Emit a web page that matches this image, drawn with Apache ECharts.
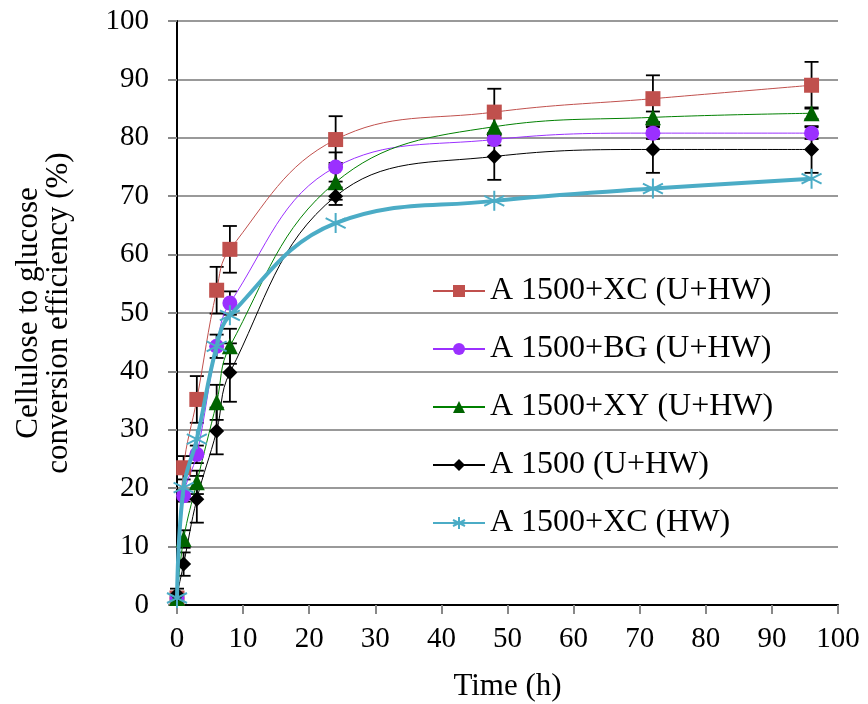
<!DOCTYPE html>
<html>
<head>
<meta charset="utf-8">
<script src="https://cdn.jsdelivr.net/npm/echarts@6/dist/echarts.min.js"></script>
<style>
  html, body { margin: 0; padding: 0; background: #fff; }
  #main { width: 868px; height: 704px; }
</style>
</head>
<body>
<div id="main"></div>
<script>
// hydrolysis time (h)
const times = [0, 1, 3, 6, 8, 24, 48, 72, 96];

// conversion efficiency (%) per condition, with error (+/-)
const xcUHW = [1.2, 23.5, 35.2, 53.9, 60.9, 79.7, 84.4, 86.7, 89.0];
const xcUHWErr = [0.5, 2, 4, 4, 4, 4, 4, 4, 4];
const bgUHW = [1.2, 18.7, 25.8, 44.3, 51.7, 75.0, 79.7, 80.8, 80.8];
const bgUHWErr = [0.5, 1, 1.5, 2, 2, 2.5, 1, 1, 1];
const xyUHW = [1.2, 11.3, 21.0, 34.7, 44.3, 72.4, 81.9, 83.5, 84.2];
const xyUHWErr = [0.5, 1.5, 2, 3, 3, 3, 1.5, 1, 1];
const aUHW = [1.8, 7.0, 18.1, 29.8, 39.8, 70.0, 76.8, 78.0, 78.0];
const aUHWErr = [1, 2, 4, 4, 5, 1.5, 4, 4, 4];
const xcHW = [1.2, 20.1, 28.4, 44.3, 49.6, 65.4, 69.2, 71.3, 73.0];

const names = ['A 1500+XC (U+HW)', 'A 1500+BG (U+HW)', 'A 1500+XY (U+HW)', 'A 1500 (U+HW)', 'A 1500+XC (HW)'];
const xTicks = [0, 10, 20, 30, 40, 50, 60, 70, 80, 90, 100];
const yTicks = [0, 10, 20, 30, 40, 50, 60, 70, 80, 90, 100];

const FONT = 'Liberation Serif';
const asterisk = 'path://M0,-10L0,10M-8.66,-5L8.66,5M-8.66,5L8.66,-5';

function pairs(vals) {
  return times.map((t, i) => [t, vals[i]]);
}

function errSeries(vals, errs) {
  return {
    type: 'custom',
    silent: true,
    z: 1,
    data: times.map((t, i) => [t, vals[i], errs[i]]),
    renderItem: function (params, api) {
      const x = api.value(0), y = api.value(1), e = api.value(2);
      const top = api.coord([x, y + e]);
      const bot = api.coord([x, y - e]);
      const w = 7;
      const st = { stroke: '#000', lineWidth: 1.8 };
      return {
        type: 'group',
        children: [
          { type: 'line', shape: { x1: top[0], y1: top[1], x2: bot[0], y2: bot[1] }, style: st },
          { type: 'line', shape: { x1: top[0] - w, y1: top[1], x2: top[0] + w, y2: top[1] }, style: st },
          { type: 'line', shape: { x1: bot[0] - w, y1: bot[1], x2: bot[0] + w, y2: bot[1] }, style: st }
        ]
      };
    }
  };
}

let myChart = echarts.init(document.getElementById('main'));
let option = {
  animation: false,
  textStyle: { fontFamily: FONT },
  grid: { left: 177, right: 30, top: 21, bottom: 99, containLabel: false, outerBoundsMode: 'none' },
  legend: {
    data: names,
    orient: 'vertical',
    left: 427,
    top: 270,
    itemWidth: 52,
    itemHeight: 15,
    itemGap: 26,
    textStyle: { fontFamily: FONT, fontSize: 32, color: '#000', lineHeight: 32 }
  },
  xAxis: [{
    type: 'value',
    min: 0, max: 100, interval: 10,
    name: 'Time (h)',
    nameLocation: 'middle',
    nameGap: 66,
    nameTextStyle: { fontFamily: FONT, fontSize: 31, color: '#000' },
    axisLine: { lineStyle: { color: '#888', width: 2 } },
    axisTick: { inside: false, length: 9, lineStyle: { color: '#888', width: 2 } },
    axisLabel: { margin: 20, fontFamily: FONT, fontSize: 29, color: '#000',
      formatter: v => xTicks.includes(v) ? String(v) : '' },
    splitLine: { show: false }
  }, {
    type: 'value', position: 'top',
    min: 0, max: 100,
    axisLine: { show: true, lineStyle: { color: '#000', width: 2 } },
    axisTick: { show: false }, axisLabel: { show: false }, splitLine: { show: false }
  }],
  yAxis: [{
    type: 'value',
    min: 0, max: 100, interval: 10,
    name: 'Cellulose to glucose\nconversion efficiency (%)',
    nameLocation: 'middle',
    nameGap: 103,
    nameTextStyle: { fontFamily: FONT, fontSize: 31, color: '#000', lineHeight: 30, align: 'center' },
    axisLine: { show: true, lineStyle: { color: '#888', width: 2 } },
    axisTick: { show: true, inside: false, length: 9, lineStyle: { color: '#888', width: 2 } },
    axisLabel: { margin: 28, fontFamily: FONT, fontSize: 29, color: '#000',
      formatter: v => yTicks.includes(v) ? String(v) : '' },
    splitLine: { show: true, lineStyle: { color: '#999', width: 2 } }
  }, {
    type: 'value', position: 'right',
    min: 0, max: 100,
    axisLine: { show: true, lineStyle: { color: '#000', width: 2 } },
    axisTick: { show: false }, axisLabel: { show: false }, splitLine: { show: false }
  }],
  series: [
    errSeries(xcUHW, xcUHWErr),
    errSeries(bgUHW, bgUHWErr),
    errSeries(xyUHW, xyUHWErr),
    errSeries(aUHW, aUHWErr),
    {
      name: names[0], type: 'line', z: 3, smooth: 0.4, data: pairs(xcUHW),
      symbol: 'rect', symbolSize: 15,
      lineStyle: { color: '#C0504D', width: 1 },
      itemStyle: { color: '#C0504D' }
    },
    {
      name: names[1], type: 'line', z: 3, smooth: 0.4, data: pairs(bgUHW),
      symbol: 'circle', symbolSize: 15,
      lineStyle: { color: '#9B30FF', width: 1 },
      itemStyle: { color: '#9B30FF' }
    },
    {
      name: names[2], type: 'line', z: 3, smooth: 0.4, data: pairs(xyUHW),
      symbol: 'triangle', symbolSize: 16,
      lineStyle: { color: '#008000', width: 1 },
      itemStyle: { color: '#006400' }
    },
    {
      name: names[3], type: 'line', z: 3, smooth: 0.4, data: pairs(aUHW),
      symbol: 'diamond', symbolSize: 15,
      lineStyle: { color: '#000', width: 1 },
      itemStyle: { color: '#000' }
    },
    {
      name: names[4], type: 'line', z: 4, smooth: 0.4, data: pairs(xcHW),
      symbol: asterisk, symbolSize: 20,
      lineStyle: { color: '#4BACC6', width: 4 },
      itemStyle: { color: 'none', borderColor: '#4BACC6', borderWidth: 2 }
    }
  ]
};
myChart.setOption(option);
</script>
</body>
</html>
